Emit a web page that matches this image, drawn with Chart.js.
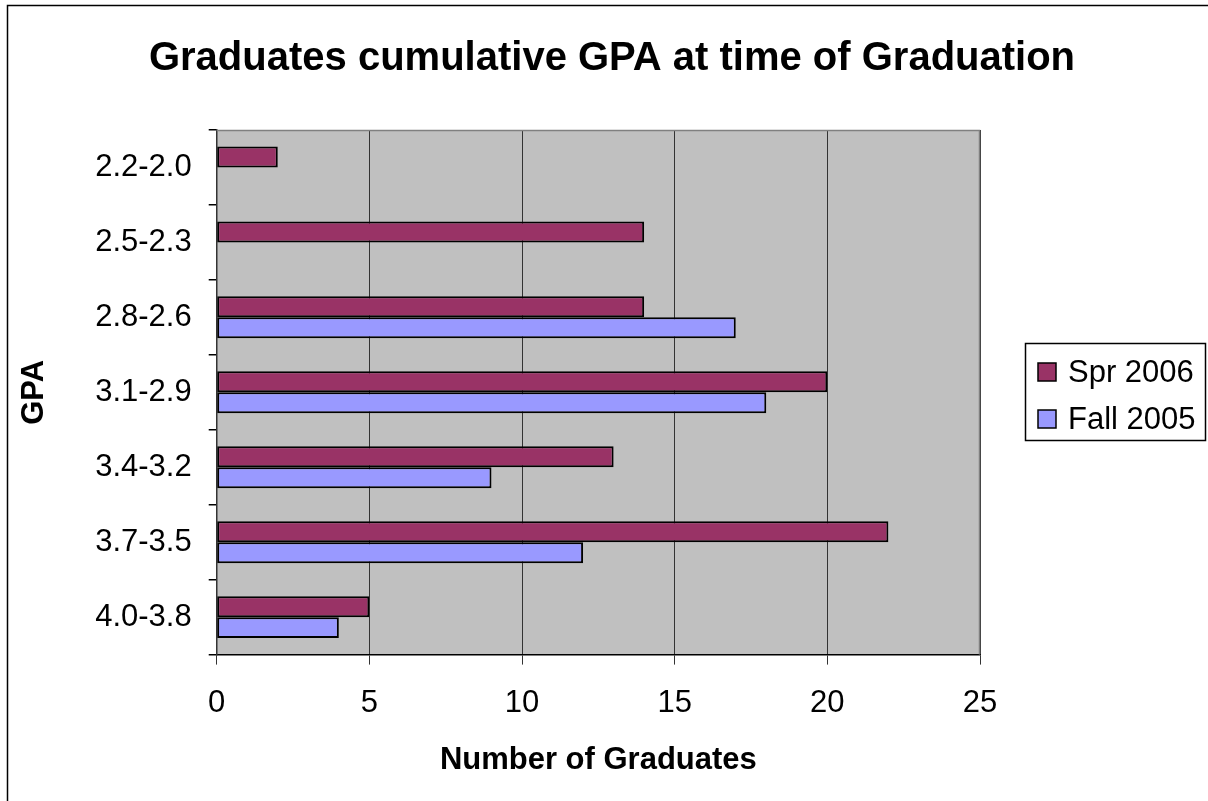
<!DOCTYPE html>
<html>
<head>
<meta charset="utf-8">
<script src="https://cdn.jsdelivr.net/npm/chart.js@4.4.1/dist/chart.umd.min.js"></script>
<style>
  html, body { margin: 0; padding: 0; background: #fff; }
  #wrap { width: 1208px; height: 801px; position: relative; }
</style>
</head>
<body>
<div id="wrap"><canvas id="c"></canvas></div>
<script>
// GPA ranges, top to bottom as in the picture
const gpaRanges = ['2.2-2.0', '2.5-2.3', '2.8-2.6', '3.1-2.9', '3.4-3.2', '3.7-3.5', '4.0-3.8'];
const spr2006 = [2, 14, 14, 20, 13, 22, 5];
const fall2005 = [null, null, 17, 18, 9, 12, 4];
const xTicks = [0, 5, 10, 15, 20, 25];
const chartTitle = 'Graduates cumulative GPA at time of Graduation';

const FONT = '"Liberation Sans", Arial, sans-serif';

// gray plot background, plot frame, outer frame, title and boxed legend
const framePlugin = {
    id: 'frame',
    beforeDraw(chart) {
        const { ctx, chartArea: a } = chart;
        ctx.save();
        ctx.fillStyle = '#C0C0C0';
        ctx.fillRect(a.left, a.top, a.right - a.left, a.bottom - a.top);
        ctx.restore();
    },
    afterDraw(chart) {
        const { ctx, chartArea: a } = chart;
        ctx.save();
        // plot area top / right edge
        ctx.strokeStyle = '#808080';
        ctx.lineWidth = 1.5;
        ctx.beginPath();
        ctx.moveTo(a.left, a.top + 0.5);
        ctx.lineTo(a.right - 0.5, a.top + 0.5);
        ctx.lineTo(a.right - 0.5, a.bottom);
        ctx.stroke();

        // outer chart border (only top/left visible)
        ctx.strokeStyle = '#000';
        ctx.lineWidth = 1.5;
        ctx.strokeRect(7.5, 5.5, 1220, 820);

        // title
        ctx.fillStyle = '#000';
        ctx.font = 'bold 40px ' + FONT;
        ctx.textAlign = 'center';
        ctx.textBaseline = 'middle';
        ctx.fillText(chartTitle, 612, 59);

        // legend
        const lx = 1025, ly = 343, lw = 180, lh = 97;
        ctx.textAlign = 'left';
        ctx.lineWidth = 1.5;
        ctx.strokeRect(lx + 0.5, ly + 0.5, lw, lh);
        ctx.font = '31px ' + FONT;
        chart.data.datasets.forEach((ds, i) => {
            const cy = ly + 29 + i * 47;
            ctx.fillStyle = ds.backgroundColor;
            ctx.fillRect(lx + 13, cy - 9, 18, 18);
            ctx.strokeStyle = '#000';
            ctx.lineWidth = 1.5;
            ctx.strokeRect(lx + 13, cy - 9, 18, 18);
            ctx.fillStyle = '#000';
            ctx.fillText(ds.label, lx + 43, cy + 1);
        });
        ctx.restore();
    }
};

new Chart(document.getElementById('c'), {
    type: 'bar',
    data: {
        labels: gpaRanges,
        datasets: [
            {
                label: 'Spr 2006',
                data: spr2006,
                backgroundColor: '#993366',
                borderColor: '#000',
                borderWidth: 2,
                borderSkipped: false
            },
            {
                label: 'Fall 2005',
                data: fall2005,
                backgroundColor: '#9999FF',
                borderColor: '#000',
                borderWidth: 2,
                borderSkipped: false
            }
        ]
    },
    options: {
        indexAxis: 'y',
        responsive: true,
        maintainAspectRatio: false,
        animation: false,
        categoryPercentage: 0.56,
        barPercentage: 1.0,
        layout: { padding: { left: 8, right: 228, top: 130, bottom: 8 } },
        plugins: {
            legend: { display: false },
            tooltip: { enabled: false },
            title: { display: false }
        },
        scales: {
            x: {
                min: 0,
                max: 25,
                afterBuildTicks(axis) { axis.ticks = xTicks.map(v => ({ value: v })); },
                grid: { color: '#333', lineWidth: 1, tickLength: 10, drawOnChartArea: true },
                border: { color: '#000', width: 1.5 },
                ticks: { color: '#000', font: { family: FONT, size: 31 }, padding: 20 },
                title: {
                    display: true,
                    text: 'Number of Graduates',
                    color: '#000',
                    font: { family: FONT, size: 31, weight: 'bold' },
                    padding: { top: 0, bottom: 14 }
                }
            },
            y: {
                grid: { offset: true, drawOnChartArea: false, color: '#000', lineWidth: 1.5, tickLength: 8 },
                border: { color: '#333', width: 1.5 },
                ticks: { color: '#000', font: { family: FONT, size: 31 }, padding: 17 },
                title: {
                    display: true,
                    text: 'GPA',
                    color: '#000',
                    font: { family: FONT, size: 31, weight: 'bold' },
                    padding: { top: 8, bottom: 25 }
                }
            }
        }
    },
    plugins: [framePlugin]
});
</script>
</body>
</html>
